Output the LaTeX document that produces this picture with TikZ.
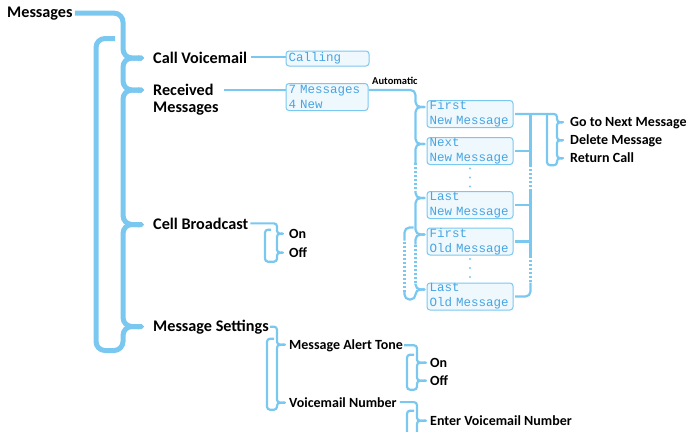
\documentclass[tikz,border=0pt]{standalone}
\usepackage{fontspec}
\setmainfont{Carlito}
\newfontfamily\lcdfont{Liberation Mono}
\usetikzlibrary{arrows.meta,calc}
\definecolor{menublue}{RGB}{122,200,240}
\definecolor{lcdtext}{RGB}{72,165,226}
\definecolor{lcdfill}{RGB}{239,248,253}

\begin{document}
\begin{tikzpicture}[
    x=1pt, y=1pt,
    lbl/.style={
        font=\bfseries\fontsize{16.2}{16.5}\selectfont,
        inner sep=0pt,
        anchor=base west
    },
    sublbl/.style={lbl, font=\bfseries\fontsize{14}{15}\selectfont},
    note/.style={lbl, font=\bfseries\fontsize{10.5}{12}\selectfont},
    lcd/.style={
        draw=menublue,
        line width=1pt,
        fill=lcdfill,
        rounded corners=3pt,
        text=lcdtext,
        font=\lcdfont\fontsize{12.5}{15}\selectfont,
        align=left,
        inner xsep=2.5pt,
        inner ysep=0pt,
        minimum height=15pt
    },
    lcdtwo/.style={lcd, text width=81pt, minimum height=27pt},
    mainbrace/.style={draw=menublue, line width=5pt, rounded corners=9pt},
    subbrace/.style={draw=menublue, line width=2.2pt, rounded corners=5pt},
    optbrace/.style={subbrace, rounded corners=3pt},
    skipline/.style={draw=menublue, line width=2.2pt, dash pattern=on 2pt off 2pt},
    endcap/.style={-{Triangle Cap[]}},
    startcap/.style={{Triangle Cap[]}-},
    bothcaps/.style={{Triangle Cap[]}-{Triangle Cap[]}}
]
\useasboundingbox (0,0) rectangle (693,-431);

% ===== Menu labels =====
\node[lbl] (msgs)   at (7,-17)   {Messages};
\node[lbl] (callvm) at (153,-63) {Call Voicemail};
\node[lbl, anchor=north west, align=left] (recv) at (153,-84.3) {Received\\Messages};
\node[lbl] (cellbc) at (153,-229) {Cell Broadcast};
\node[lbl] (msgset) at (153,-331) {Message Settings};

\node[sublbl] (cbon)  at (289,-238) {On};
\node[sublbl] (cboff) at (289,-257) {Off};
\node[sublbl] (alert) at (289,-349) {Message Alert Tone};
\node[sublbl] (vmnum) at (289,-407) {Voicemail Number};
\node[sublbl] (alon)  at (430,-367) {On};
\node[sublbl] (aloff) at (430,-385) {Off};
\node[sublbl] (entervm) at (430,-425) {Enter Voicemail Number};

\node[sublbl] (gonext)  at (570,-126.5) {Go to Next Message};
\node[sublbl] (delmsg)  at (570,-144.5) {Delete Message};
\node[sublbl] (retcall) at (570,-162.5) {Return Call};

\node[note] (auto) at (372,-84.5) {Automatic};

% ===== Displays =====
\node[lcd, text width=78pt] (calling)  at (327.5,-58.5) {Calling};
\node[lcdtwo, text width=77pt] (newcount) at (327,-97) {7 Messages\\4 New};
\node[lcdtwo] (fnew) at (470,-114)   {First\\New Message};
\node[lcdtwo] (nnew) at (470,-151)   {Next\\New Message};
\node[lcdtwo] (lnew) at (470,-205)   {Last\\New Message};
\node[lcdtwo] (fold) at (470,-241.5) {First\\Old Message};
\node[lcdtwo] (lold) at (470,-296.5) {Last\\Old Message};

\foreach \dy in {3.5,12.5,21.5} {
    \fill[menublue] ($(nnew.south)+(0,-\dy)$) circle (1.1pt);
    \fill[menublue] ($(fold.south)+(0,-\dy)$) circle (1.1pt);
}

% ===== Tips =====
\coordinate (tcv)   at ([xshift=-9pt,yshift=5pt]callvm.base west);
\coordinate (trecv) at ([xshift=-9pt,yshift=-5.7pt]recv.north west);
\coordinate (tcb)   at ([xshift=-9pt,yshift=4.5pt]cellbc.base west);
\coordinate (tms)   at ([xshift=-9pt,yshift=4.5pt]msgset.base west);

\coordinate (tfn) at ($(fnew.west)+(-1,7)$);
\coordinate (tnn) at ($(nnew.west)+(-1,7)$);
\coordinate (tln) at ($(lnew.west)+(-1,7)$);
\coordinate (tfo) at ($(fold.west)+(-1,7)$);
\coordinate (tlo) at ($(lold.west)+(-1,7)$);

\coordinate (tgo)  at ($(gonext.base west)+(-6,4.3)$);
\coordinate (tdel) at ($(delmsg.base west)+(-6,4.3)$);
\coordinate (tret) at ($(retcall.base west)+(-6,4.3)$);

\coordinate (tcbon)  at ($(cbon.base west)+(-5,4.3)$);
\coordinate (tcboff) at ($(cboff.base west)+(-5,4.3)$);
\coordinate (talert) at ($(alert.base west)+(-3,4.3)$);
\coordinate (tvm)    at ($(vmnum.base west)+(-3,4.3)$);
\coordinate (talon)  at ($(alon.base west)+(-3,4.3)$);
\coordinate (taloff) at ($(aloff.base west)+(-3,4.3)$);
\coordinate (tenter) at ($(entervm.base west)+(-3,4.3)$);

\coordinate (outcol) at ($(fnew.east)+(17,0)$);

% ===== Main menu =====
\draw[mainbrace, endcap] ([xshift=2pt]msgs.east) -| ([xshift=-21pt]tcv) -- (tcv);
\draw[mainbrace, bothcaps] (tcv) -| ([xshift=-21pt]trecv) -- (trecv);
\draw[mainbrace, bothcaps] (trecv) -| ([xshift=-21pt]tcb) -- (tcb);
\draw[mainbrace, bothcaps] (tcb) -| ([xshift=-21pt]tms) -- (tms);
\draw[mainbrace, startcap] (tms) -| ($(tms)+(-21,-24)$) -| ($(tms)+(-48,288)$) -- ++(19,0);

% ===== Call Voicemail / Received =====
\draw[subbrace] ([xshift=4pt]callvm.east) -- (callvm.east -| calling.west);
\draw[subbrace] ($(trecv -| recv.east)+(5,0)$) -- (trecv -| newcount.west);

% ===== Message list =====
\draw[subbrace, endcap] ($(newcount.east)+(0,7)$) -| ([xshift=-10pt]tfn) -- (tfn);
\draw[subbrace, bothcaps] (tfn) -| ([xshift=-10pt]tnn) -- (tnn);
\draw[subbrace, startcap] (tnn) -| ($(tnn)+(-10,-19)$);
\draw[skipline] ($(tnn)+(-10,-19)$) -- ($(tln)+(-10,7)$);
\draw[subbrace, endcap] ($(tln)+(-10,7)$) |- (tln);
\draw[subbrace, bothcaps] (tln) -| ([xshift=-10pt]tfo) -- (tfo);
\draw[subbrace, startcap] (tfo) -| ($(tfo)+(-10,-10)$);
\draw[skipline] ($(tfo)+(-10,-10)$) -- ($(tlo)+(-10,6)$);
\draw[subbrace, endcap] ($(tlo)+(-10,6)$) |- (tlo);
\draw[subbrace, startcap] (tlo) -| ($(tlo)+(-10,-10)$) -| ($(tlo)+(-21,-2)$);
\draw[skipline] ($(tlo)+(-21,-2)$) -- ($(tfo)+(-21,-6)$);
\draw[subbrace] ($(tfo)+(-21,-6)$) |- ($(tfo)+(-12,7)$);

% ===== Message options =====
\draw[subbrace] (outcol) -- (outcol |- nnew.south);
\draw[skipline] (outcol |- nnew.south) -- (outcol |- lnew.north);
\draw[subbrace] (outcol |- lnew.north) -- (outcol |- fold.south);
\draw[skipline] (outcol |- fold.south) -- (outcol |- lold.north);
\draw[subbrace] (outcol |- lold.north) |- ([xshift=1.5pt]lold.east);
\foreach \b in {nnew,lnew,fold}
    \draw[subbrace] ([xshift=1.5pt]\b.east) -- (\b.east -| outcol);

\draw[optbrace, endcap] ([xshift=1.5pt]fnew.east) -| ($(tgo)+(-7,0)$) -- (tgo);
\draw[optbrace, bothcaps] (tgo) -| ($(tdel)+(-7,0)$) -- (tdel);
\draw[optbrace, bothcaps] (tdel) -| ($(tret)+(-7,0)$) -- (tret);
\draw[optbrace, startcap] (tret) -| ($(tret)+(-7,-7)$) -| ($(tret)+(-17,44)$);

% ===== Cell Broadcast =====
\draw[optbrace, endcap] ([xshift=2pt]cellbc.east) -| ($(tcbon)+(-7,0)$) -- (tcbon);
\draw[optbrace, bothcaps] (tcbon) -| ($(tcboff)+(-7,0)$) -- (tcboff);
\draw[optbrace, startcap] (tcboff) -| ($(tcboff)+(-7,-9)$) -| ($(tcboff)+(-19,23)$) -- ++(6,0);

% ===== Message Settings =====
\draw[optbrace, endcap] ([xshift=1pt]msgset.east) -| ($(talert)+(-9,0)$) -- (talert);
\draw[optbrace, bothcaps] (talert) -| ($(tvm)+(-9,0)$) -- (tvm);
\draw[optbrace, startcap] (tvm) -| ($(tvm)+(-9,-7)$) -| ($(tvm)+(-19,64)$) -- ++(7,0);

\draw[optbrace, endcap] ([xshift=1pt]alert.east) -| ($(talon)+(-10,0)$) -- (talon);
\draw[optbrace, bothcaps] (talon) -| ($(taloff)+(-10,0)$) -- (taloff);
\draw[optbrace, startcap] (taloff) -| ($(taloff)+(-10,-9)$) -| ($(taloff)+(-20,26)$) -- ++(7,0);

\draw[optbrace, endcap] ([xshift=3pt]vmnum.east) -| ($(tenter)+(-10,0)$) -- (tenter);
\draw[optbrace, startcap] (tenter) -| ($(tenter)+(-10,-14)$) -| ($(tenter)+(-20,10)$) -- ++(7,0);

\end{tikzpicture}
\end{document}
